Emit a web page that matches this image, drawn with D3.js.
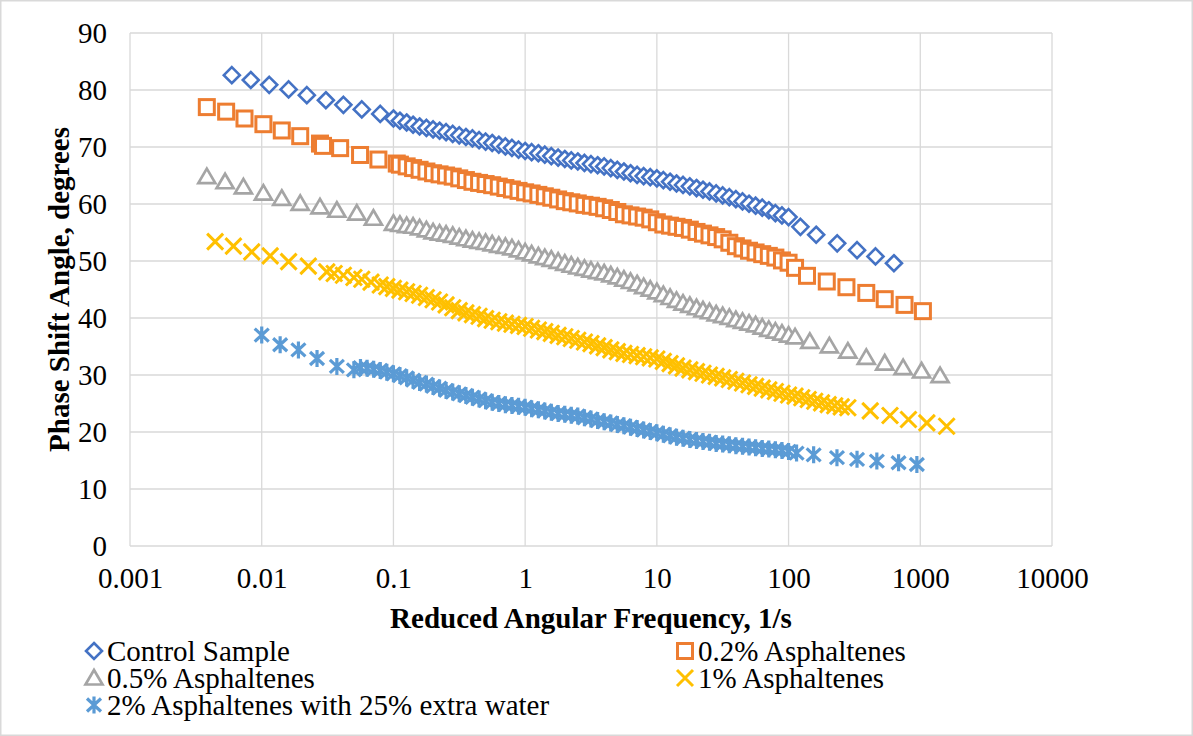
<!DOCTYPE html>
<html lang="en">
<head>
    <meta charset="UTF-8">
    <title>Phase Shift Angle vs Reduced Angular Frequency</title>
    <style>
        body { margin: 0; background: #fff; }
        text { font-family: "Liberation Serif", "Times New Roman", serif; fill: #000; }
        .grid line { stroke: #d9d9d9; stroke-width: 1.3px; }
    </style>
    <script src="https://d3js.org/d3.v7.min.js"></script>
</head>
<body>
<script>
    // [reduced angular frequency (1/s), phase shift angle (deg)]
    const control = [
        [0.00593,82.6],[0.00826,81.75],[0.0114,80.9],[0.016,80.1],[0.022,79.1],[0.0307,78.2],[0.0417,77.4],[0.0575,76.6],[0.0794,75.8],[0.1,75.0],
        [0.112,74.6],[0.126,74.3],[0.141,73.9],[0.158,73.6],[0.178,73.35],[0.2,73.1],[0.224,72.85],[0.251,72.6],[0.282,72.3],[0.316,72.05],[0.355,71.75],[0.398,71.5],[0.447,71.2],[0.501,70.95],[0.562,70.7],[0.631,70.4],[0.708,70.1],[0.794,69.85],[0.891,69.55],
        [1,69.3],[1.12,69.1],[1.26,68.9],[1.41,68.65],[1.58,68.4],[1.78,68.15],[2,67.9],[2.24,67.65],[2.51,67.45],[2.82,67.2],[3.16,67.0],[3.55,66.8],[3.98,66.6],[4.47,66.3],[5.01,66.0],[5.62,65.7],[6.31,65.4],[7.08,65.1],[7.94,64.9],[8.91,64.7],
        [10,64.5],[11.2,64.2],[12.6,63.9],[14.1,63.6],[15.8,63.35],[17.8,63.1],[20,62.8],[22.4,62.5],[25.1,62.2],[28.2,61.85],[31.6,61.5],[35.5,61.2],[39.8,60.85],[44.7,60.45],[50.1,60.05],[56.2,59.7],[63.1,59.35],[70.8,58.9],[79.4,58.4],[89.1,58.0],[100,57.7],
        [123,56.0],[162,54.6],[234,53.1],[331,51.9],[457,50.8],[631,49.6]
    ];
    const asph02 = [
        [0.00383,77.0],[0.00537,76.2],[0.0074,75.0],[0.0103,74.0],[0.0142,72.9],[0.0196,71.9],[0.0277,70.6],[0.0292,70.2],[0.0394,69.8],[0.0558,68.6],[0.0769,67.8],[0.106,67.1],
        [0.112,66.9],[0.126,66.6],[0.141,66.3],[0.158,66.0],[0.178,65.7],[0.2,65.4],[0.224,65.2],[0.251,65.0],[0.282,64.8],[0.316,64.5],[0.355,64.2],[0.398,63.9],[0.447,63.7],[0.501,63.5],[0.562,63.3],[0.631,63.05],[0.708,62.8],[0.794,62.55],[0.891,62.3],
        [1,62.05],[1.12,61.85],[1.26,61.6],[1.41,61.35],[1.58,61.1],[1.78,60.8],[2,60.5],[2.24,60.3],[2.51,60.1],[2.82,59.85],[3.16,59.7],[3.55,59.5],[3.98,59.25],[4.47,58.95],[5.01,58.6],[5.62,58.2],[6.31,58.0],[7.08,57.8],[7.94,57.6],[8.91,57.3],
        [10,56.8],[11.2,56.4],[12.6,56.2],[14.1,56.0],[15.8,55.8],[17.8,55.5],[20,55.1],[22.4,54.8],[25.1,54.5],[28.2,54.2],[31.6,53.8],[35.5,53.2],[39.8,52.6],[44.7,52.2],[50.1,51.8],[56.2,51.5],[63.1,51.2],[70.8,50.9],[79.4,50.6],[89.1,50.1],[100,49.7],[112,48.8],
        [138,47.4],[195,46.4],[275,45.4],[389,44.4],[537,43.3],[759,42.3],[1047,41.2]
    ];
    const asph05 = [
        [0.00383,64.8],[0.00527,63.9],[0.00726,63.0],[0.0103,61.9],[0.0142,61.0],[0.0196,60.1],[0.0277,59.5],[0.0372,58.9],[0.0527,58.4],[0.0705,57.5],[0.1,56.6],
        [0.112,56.4],[0.126,56.2],[0.141,56.1],[0.158,55.8],[0.178,55.45],[0.2,55.1],[0.224,54.9],[0.251,54.7],[0.282,54.5],[0.316,54.2],[0.355,53.9],[0.398,53.65],[0.447,53.45],[0.501,53.25],[0.562,53.0],[0.631,52.75],[0.708,52.55],[0.794,52.3],[0.891,51.95],
        [1,51.6],[1.12,51.25],[1.26,50.9],[1.41,50.6],[1.58,50.3],[1.78,49.95],[2,49.6],[2.24,49.25],[2.51,48.95],[2.82,48.7],[3.16,48.4],[3.55,48.15],[3.98,47.9],[4.47,47.55],[5.01,47.2],[5.62,46.8],[6.31,46.4],[7.08,46.0],[7.94,45.5],[8.91,45.05],
        [10,44.6],[11.2,44.1],[12.6,43.6],[14.1,43.1],[15.8,42.6],[17.8,42.2],[20,41.8],[22.4,41.4],[25.1,41.1],[28.2,40.7],[31.6,40.4],[35.5,40.1],[39.8,39.7],[44.7,39.4],[50.1,39.1],[56.2,38.8],[63.1,38.4],[70.8,38.0],[79.4,37.7],[89.1,37.35],[100,37.0],[112,36.7],
        [145,35.9],[204,35.1],[282,34.2],[389,33.1],[537,32.1],[741,31.3],[1023,30.7],[1413,29.9]
    ];
    const asph1 = [
        [0.00443,53.4],[0.0061,52.6],[0.0084,51.6],[0.0116,50.9],[0.016,49.9],[0.0226,49.1],[0.0312,48.1],[0.0355,47.8],[0.0417,47.5],[0.0501,47.1],[0.0575,46.8],[0.0676,46.3],[0.0794,45.8],
        [0.0891,45.5],[0.1,45.2],[0.112,44.9],[0.126,44.6],[0.141,44.3],[0.158,44.0],[0.178,43.6],[0.2,43.2],[0.224,42.8],[0.251,42.3],[0.282,41.8],[0.316,41.3],[0.355,40.9],[0.398,40.6],[0.447,40.3],[0.501,39.9],[0.562,39.6],[0.631,39.35],[0.708,39.1],[0.794,38.9],[0.891,38.7],
        [1,38.5],[1.12,38.2],[1.26,37.9],[1.41,37.6],[1.58,37.3],[1.78,36.95],[2,36.7],[2.24,36.4],[2.51,36.1],[2.82,35.8],[3.16,35.5],[3.55,35.1],[3.98,34.8],[4.47,34.4],[5.01,34.1],[5.62,33.8],[6.31,33.6],[7.08,33.4],[7.94,33.2],[8.91,33.0],
        [10,32.8],[11.2,32.4],[12.6,32.0],[14.1,31.6],[15.8,31.2],[17.8,30.9],[20,30.6],[22.4,30.3],[25.1,30.0],[28.2,29.75],[31.6,29.5],[35.5,29.2],[39.8,28.9],[44.7,28.6],[50.1,28.3],[56.2,28.0],[63.1,27.7],[70.8,27.4],[79.4,27.1],[89.1,26.8],
        [100,26.5],[112,26.3],[126,26.0],[141,25.7],[158,25.4],[178,25.1],[200,24.8],[224,24.6],[251,24.4],[282,24.25],
        [417,23.7],[589,22.9],[813,22.2],[1122,21.6],[1585,21.0]
    ];
    const asph2water = [
        [0.01,37.0],[0.0138,35.3],[0.019,34.4],[0.0263,32.9],[0.0372,31.5],[0.0501,30.9],
        [0.0562,31.3],[0.0631,31.2],[0.0708,31.0],[0.0794,30.8],[0.0891,30.5],[0.1,30.2],[0.112,29.9],[0.126,29.5],[0.141,29.1],[0.158,28.7],[0.178,28.4],[0.2,28.0],[0.224,27.7],[0.251,27.3],[0.282,27.0],[0.316,26.7],[0.355,26.4],[0.398,26.1],[0.447,25.8],[0.501,25.5],[0.562,25.2],[0.631,25.0],[0.708,24.8],[0.794,24.65],[0.891,24.5],
        [1,24.35],[1.12,24.1],[1.26,23.9],[1.41,23.7],[1.58,23.45],[1.78,23.25],[2,23.1],[2.24,22.95],[2.51,22.8],[2.82,22.5],[3.16,22.3],[3.55,22.0],[3.98,21.8],[4.47,21.6],[5.01,21.3],[5.62,21.1],[6.31,20.85],[7.08,20.6],[7.94,20.35],[8.91,20.1],
        [10,19.85],[11.2,19.6],[12.6,19.35],[14.1,19.1],[15.8,18.9],[17.8,18.7],[20,18.5],[22.4,18.35],[25.1,18.2],[28.2,18.0],[31.6,17.9],[35.5,17.75],[39.8,17.6],[44.7,17.5],[50.1,17.35],[56.2,17.25],[63.1,17.1],[70.8,17.0],[79.4,16.9],[89.1,16.75],[100,16.6],
        [115,16.3],[155,16.0],[233,15.5],[331,15.2],[468,14.9],[684,14.6],[942,14.3]
    ];

    const xTicks = [0.001, 0.01, 0.1, 1, 10, 100, 1000, 10000];
    const yTicks = [0, 10, 20, 30, 40, 50, 60, 70, 80, 90];

    const series = [
        { name: "Control Sample", data: control, color: "#4472c4", shape: "diamond" },
        { name: "0.2% Asphaltenes", data: asph02, color: "#ed7d31", shape: "square" },
        { name: "0.5% Asphaltenes", data: asph05, color: "#a5a5a5", shape: "triangle" },
        { name: "1% Asphaltenes", data: asph1, color: "#ffc000", shape: "x" },
        { name: "2% Asphaltenes with 25% extra water", data: asph2water, color: "#5b9bd5", shape: "star" }
    ];

    const width = 1193, height = 736;
    const margin = { left: 130, right: 141, top: 33, bottom: 190 };
    const fontSize = "29px";

    const svg = d3.select("body").append("svg")
        .attr("width", width)
        .attr("height", height);

    // outer chart border
    svg.append("rect")
        .attr("x", 0.75).attr("y", 0.75)
        .attr("width", width - 1.5).attr("height", height - 1.5)
        .attr("fill", "#fff")
        .attr("stroke", "#d9d9d9")
        .attr("stroke-width", 1.5);

    const x = d3.scaleLog()
        .domain([0.001, 10000])
        .range([margin.left, width - margin.right]);

    const y = d3.scaleLinear()
        .domain([0, 90])
        .range([height - margin.bottom, margin.top]);

    const grid = svg.append("g").attr("class", "grid");
    grid.selectAll(".gx").data(xTicks).enter().append("line")
        .attr("x1", d => x(d)).attr("x2", d => x(d))
        .attr("y1", y(0)).attr("y2", y(90));
    grid.selectAll(".gy").data(yTicks).enter().append("line")
        .attr("x1", x(0.001)).attr("x2", x(10000))
        .attr("y1", d => y(d)).attr("y2", d => y(d));

    // axes drawn with d3, domain/tick lines hidden (Excel style)
    const xAxis = svg.append("g")
        .attr("transform", `translate(0,${y(0)})`)
        .call(d3.axisBottom(x).tickValues(xTicks).tickSize(0).tickPadding(0)
            .tickFormat(d => String(d)));
    xAxis.select(".domain").remove();
    xAxis.selectAll("text")
        .attr("y", 42).attr("dy", null)
        .style("font-size", fontSize)
        .style("font-family", "'Liberation Serif', serif");

    const yAxis = svg.append("g")
        .attr("transform", `translate(${x(0.001)},0)`)
        .call(d3.axisLeft(y).tickValues(yTicks).tickSize(0).tickPadding(0));
    yAxis.select(".domain").remove();
    yAxis.selectAll("text")
        .attr("x", -23).attr("dy", "0.33em")
        .style("font-size", fontSize)
        .style("font-family", "'Liberation Serif', serif");

    svg.append("text")
        .attr("x", (x(0.001) + x(10000)) / 2)
        .attr("y", 628)
        .attr("text-anchor", "middle")
        .style("font-size", fontSize)
        .style("font-weight", "bold")
        .text("Reduced Angular Frequency, 1/s");

    svg.append("text")
        .attr("transform", `translate(69,${(y(0) + y(90)) / 2}) rotate(-90)`)
        .attr("text-anchor", "middle")
        .style("font-size", fontSize)
        .style("font-weight", "bold")
        .text("Phase Shift Angle, degrees");

    function drawMarker(g, shape, color) {
        if (shape === "diamond") {
            g.append("path").attr("d", "M0,-8L8,0L0,8L-8,0Z")
                .attr("fill", "#fff").attr("stroke", color).attr("stroke-width", 2.6);
        } else if (shape === "square") {
            g.append("rect").attr("x", -7.5).attr("y", -7.5).attr("width", 15).attr("height", 15)
                .attr("fill", "#fff").attr("stroke", color).attr("stroke-width", 3);
        } else if (shape === "triangle") {
            g.append("path").attr("d", "M0,-8L8.5,6.5L-8.5,6.5Z")
                .attr("fill", "#fff").attr("stroke", color).attr("stroke-width", 2.7);
        } else if (shape === "x") {
            g.append("path").attr("d", "M-8,-8L8,8M8,-8L-8,8")
                .attr("fill", "none").attr("stroke", color).attr("stroke-width", 3);
        } else {
            g.append("path").attr("d", "M-7,-6.5L7,6.5M7,-6.5L-7,6.5M0,-8.5L0,8.5")
                .attr("fill", "none").attr("stroke", color).attr("stroke-width", 3.2);
        }
    }

    series.forEach(s => {
        const pts = svg.append("g").selectAll("g")
            .data(s.data).enter().append("g")
            .attr("transform", d => `translate(${x(d[0])},${y(d[1])})`);
        pts.each(function () { drawMarker(d3.select(this), s.shape, s.color); });
    });

    // legend: two columns, three rows
    const legendPos = [[94, 651], [685, 651], [94, 678], [685, 678], [94, 705]];
    series.forEach((s, i) => {
        const g = svg.append("g")
            .attr("transform", `translate(${legendPos[i][0]},${legendPos[i][1]})`);
        drawMarker(g, s.shape, s.color);
        g.append("text")
            .attr("x", 13)
            .attr("dy", "0.33em")
            .style("font-size", fontSize)
            .text(s.name);
    });
</script>
</body>
</html>
